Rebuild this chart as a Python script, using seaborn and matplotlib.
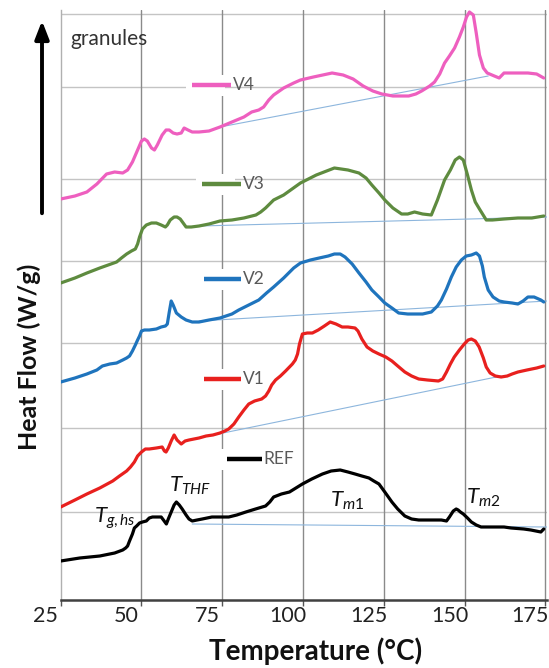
import numpy as np
import pandas as pd
import matplotlib
matplotlib.use("Agg")
import matplotlib.pyplot as plt
import seaborn as sns

# ---------------- data (heat flow in arbitrary offset units) -------------
v4_T = [25.0, 29.4, 33.1, 36.2, 39.2, 41.7, 44.2, 45.7, 47.2, 48.8, 50.0, 50.9, 51.8, 53.1, 54.0,
        54.9, 56.4, 57.6, 58.6, 59.8, 61.0, 62.3, 63.2, 64.4, 65.7, 67.8, 70.9, 74.3, 78.0, 81.7,
        84.1, 86.3, 87.8, 89.4, 90.9, 94.0, 97.1, 99.2, 103.2, 109.0, 112.4, 115.5, 118.6, 121.6,
        124.4, 127.8, 132.7, 134.9, 136.7, 139.2, 140.7, 142.3, 143.8, 145.3, 146.9, 148.4, 149.6,
        150.6, 151.5, 152.7, 153.6, 154.6, 155.8, 157.0, 159.2, 160.7, 162.2, 164.7, 169.6, 172.3,
        174.5]
v4_H = [4.01, 4.04, 4.08, 4.16, 4.26, 4.28, 4.27, 4.30, 4.38, 4.50, 4.59, 4.61, 4.59, 4.52, 4.50,
        4.55, 4.65, 4.70, 4.70, 4.67, 4.66, 4.67, 4.72, 4.70, 4.68, 4.68, 4.69, 4.73, 4.78, 4.83,
        4.88, 4.90, 4.93, 5.00, 5.05, 5.12, 5.17, 5.20, 5.23, 5.27, 5.25, 5.21, 5.14, 5.09,
        5.06, 5.04, 5.04, 5.06, 5.09, 5.14, 5.18, 5.26, 5.37, 5.44, 5.52, 5.63, 5.73,
        5.83, 5.88, 5.85, 5.67, 5.45, 5.32, 5.27, 5.24, 5.22, 5.27, 5.27, 5.27, 5.26,
        5.22]

v3_T = [25.0, 29.4, 33.1, 37.1, 42.3, 43.8, 45.4, 46.9, 48.1, 48.8, 49.4, 50.3, 51.5, 53.1, 54.6,
        56.1, 57.4, 58.0, 58.9, 60.1, 61.0, 62.0, 62.9, 63.8, 65.4, 67.8, 70.9, 74.3, 78.0, 81.7,
        85.4, 86.9, 88.4, 90.9, 94.0, 99.2, 104.1, 109.7, 113.9, 117.3, 119.5, 121.3, 123.5, 125.3,
        127.8, 130.5, 132.4, 134.5, 137.0, 139.7, 141.6, 143.8, 145.6, 147.1, 148.4, 149.6, 150.9,
        152.1, 153.3, 154.6, 156.7, 158.6, 162.2, 166.5, 170.8, 174.5]
v3_H = [3.17, 3.22, 3.27, 3.32, 3.38, 3.42, 3.46, 3.49, 3.51, 3.56, 3.63, 3.71, 3.75, 3.77, 3.77,
        3.75, 3.73, 3.75, 3.80, 3.83, 3.83, 3.81, 3.77, 3.73, 3.73, 3.74, 3.76, 3.79, 3.80, 3.82,
        3.85, 3.88, 3.92, 4.00, 4.05, 4.17, 4.25, 4.32, 4.30, 4.27, 4.22, 4.15, 4.07, 4.00,
        3.92, 3.86, 3.86, 3.88, 3.86, 3.85, 4.00, 4.20, 4.30, 4.40, 4.43, 4.40, 4.25,
        4.10, 3.98, 3.91, 3.80, 3.80, 3.81, 3.82, 3.82, 3.84]

v2_T = [25.0, 29.4, 33.1, 36.2, 37.9, 40.2, 42.3, 44.2, 45.4, 46.3, 47.2, 48.1, 48.8, 49.4, 50.0,
        50.9, 52.4, 54.6, 56.1, 57.4, 58.0, 58.6, 59.2, 59.8, 60.8, 62.3, 63.8, 65.7, 67.8, 70.9,
        74.3, 78.0, 80.1, 83.2, 86.3, 88.7, 90.9, 94.0, 97.1, 99.2, 102.3, 105.0, 107.8, 109.7,
        111.5, 113.0, 115.2, 117.3, 119.5, 121.3, 123.5, 125.3, 127.5, 129.6, 132.4, 134.5, 137.0,
        139.7, 141.6, 142.8, 144.4, 145.9, 147.4, 149.0, 150.5, 152.1, 153.6, 154.6, 155.5, 156.1,
        157.3, 158.8, 160.7, 162.2, 164.7, 166.5, 168.1, 169.6, 171.5, 173.6, 174.5]
v2_H = [2.18, 2.22, 2.26, 2.30, 2.34, 2.36, 2.37, 2.40, 2.42, 2.44, 2.49, 2.55, 2.60, 2.64, 2.69,
        2.70, 2.70, 2.71, 2.73, 2.74, 2.76, 2.88, 2.99, 2.95, 2.87, 2.83, 2.80, 2.78, 2.78, 2.80,
        2.82, 2.86, 2.90, 2.95, 3.00, 3.07, 3.13, 3.22, 3.32, 3.37, 3.40, 3.42, 3.44, 3.46,
        3.46, 3.43, 3.36, 3.27, 3.18, 3.10, 3.03, 2.97, 2.92, 2.87, 2.86, 2.86, 2.86,
        2.88, 2.94, 3.00, 3.11, 3.23, 3.33, 3.40, 3.44, 3.45, 3.47, 3.44, 3.34, 3.23,
        3.10, 3.03, 2.99, 2.98, 2.97, 2.96, 2.99, 3.03, 3.03, 3.00, 2.98]

v1_T = [25.0, 29.4, 33.1, 37.1, 41.1, 43.2, 45.4, 46.6, 47.8, 48.8, 50.0, 51.2, 52.4, 54.6, 56.4,
        57.1, 57.6, 58.3, 59.2, 60.1, 61.0, 62.3, 63.5, 64.7, 67.8, 70.0, 72.1, 74.3, 75.8, 77.0,
        78.6, 80.1, 81.7, 83.2, 85.0, 87.2, 88.4, 89.4, 90.3, 91.5, 93.0, 94.6, 95.8, 96.7, 97.6,
        98.3, 98.9, 99.8, 101.3, 102.9, 104.7, 106.6, 108.4, 110.2, 112.1, 113.9, 116.1, 117.0,
        118.2, 119.8, 121.6, 123.5, 125.6, 127.5, 129.3, 131.5, 133.6, 135.8, 138.5, 141.9, 143.2,
        144.4, 145.6, 146.8, 148.4, 149.9, 151.1, 152.1, 153.3, 154.5, 155.8, 156.7, 157.9, 159.5,
        161.3, 163.2, 164.7, 166.5, 169.3, 172.3, 174.5]
v1_H = [0.93, 1.00, 1.06, 1.12, 1.19, 1.24, 1.29, 1.33, 1.38, 1.44, 1.48, 1.51, 1.51, 1.52, 1.53,
        1.49, 1.48, 1.52, 1.59, 1.65, 1.60, 1.56, 1.59, 1.60, 1.62, 1.64, 1.65, 1.67, 1.69, 1.71,
        1.76, 1.83, 1.90, 1.96, 1.99, 2.01, 2.04, 2.09, 2.15, 2.20, 2.24, 2.29, 2.33, 2.36, 2.40,
        2.46, 2.56, 2.66, 2.67, 2.67, 2.70, 2.74, 2.78, 2.76, 2.73, 2.73, 2.72, 2.69,
        2.61, 2.53, 2.49, 2.46, 2.43, 2.39, 2.34, 2.28, 2.24, 2.21, 2.20, 2.19, 2.21,
        2.28, 2.36, 2.43, 2.50, 2.56, 2.60, 2.61, 2.59, 2.53, 2.42, 2.33, 2.27, 2.24,
        2.23, 2.24, 2.26, 2.28, 2.30, 2.32, 2.34]

ref_T = [25.0, 30.9, 37.1, 41.7, 44.2, 45.1, 45.7, 46.3, 47.2, 47.8, 48.5, 49.4, 50.3, 51.5, 52.4,
         53.4, 54.9, 56.1, 56.8, 57.7, 58.3, 59.2, 60.1, 60.8, 61.7, 62.6, 63.8, 64.7, 65.7, 67.2,
         68.8, 70.3, 71.8, 74.6, 77.0, 79.5, 82.3, 85.3, 88.4, 89.7, 90.9, 93.3, 95.8, 97.8, 99.8,
         102.7, 106.0, 108.7, 111.5, 113.9, 116.1, 118.2, 120.4, 121.9, 123.5, 125.3, 127.5, 129.3,
         131.5, 133.6, 135.8, 138.5, 140.7, 142.8, 144.4, 145.3, 146.5, 147.4, 148.0, 148.7, 149.6,
         150.9, 152.1, 153.6, 155.1, 158.5, 162.2, 164.4, 168.3, 170.5, 173.6, 174.5]
ref_H = [0.39, 0.42, 0.44, 0.47, 0.50, 0.52, 0.54, 0.59, 0.66, 0.72, 0.74, 0.77, 0.78, 0.79, 0.82,
         0.83, 0.83, 0.83, 0.80, 0.76, 0.81, 0.88, 0.95, 0.98, 0.95, 0.91, 0.85, 0.81, 0.79, 0.80,
         0.81, 0.82, 0.83, 0.83, 0.83, 0.85, 0.88, 0.91, 0.94, 0.98, 1.03, 1.06, 1.08, 1.12, 1.16,
         1.21, 1.26, 1.29, 1.30, 1.28, 1.26, 1.24, 1.22, 1.19, 1.16, 1.08, 0.98, 0.91,
         0.84, 0.81, 0.80, 0.80, 0.80, 0.80, 0.79, 0.83, 0.89, 0.91, 0.90, 0.88, 0.86,
         0.82, 0.78, 0.75, 0.73, 0.73, 0.73, 0.72, 0.71, 0.70, 0.68, 0.71]

# baselines (start T, start H, end T, end H)
base_v4 = [74.3, 4.73, 157.3, 5.24]
base_v3 = [68.0, 3.74, 175.5, 3.83]
base_v2 = [67.8, 2.79, 175.5, 2.99]
base_v1 = [64.7, 1.60, 161.3, 2.24]
base_ref = [65.7, 0.76, 175.5, 0.73]

series_names = ["V4", "V3", "V2", "V1", "REF"]
colors = {"V4": "#EE5FBF", "V3": "#5E8B3F", "V2": "#1F74BD", "V1": "#E8201E", "REF": "#000000"}
# label positions: (segment start T, segment end T, H)
label_pos = {"V4": (65.7, 77.7, 5.15), "V3": (68.8, 80.8, 4.16), "V2": (69.4, 80.8, 3.21),
             "V1": (69.4, 80.8, 2.21), "REF": (76.5, 87.2, 1.41)}

x_ticks = [25, 50, 75, 100, 125, 150, 175]
x_tick_labels = ["25", "50", "75", "100", "125", "150", "175"]
h_grid = [0.88, 1.72, 2.57, 3.39, 4.21, 5.13, 5.86]

# ---------------- build ----------------
frames = []
for name, T, H in [("V4", v4_T, v4_H), ("V3", v3_T, v3_H), ("V2", v2_T, v2_H),
                   ("V1", v1_T, v1_H), ("REF", ref_T, ref_H)]:
    frames.append(pd.DataFrame({"T": T, "H": H, "sample": name}))
df = pd.concat(frames, ignore_index=True)

sns.set_theme(style="white")
plt.rcParams["font.family"] = ["Lato", "DejaVu Sans"]
plt.rcParams["mathtext.fontset"] = "custom"
plt.rcParams["mathtext.it"] = "Lato:italic"
plt.rcParams["mathtext.rm"] = "Lato"

W, Hpx = 549, 668
fig = plt.figure(figsize=(W / 100, Hpx / 100), dpi=100)
ax = fig.add_axes([60.7 / W, 68 / Hpx, (547 - 60.7) / W, 590 / Hpx])

# grid
for g in h_grid:
    ax.axhline(g, color="#c4c4c4", lw=1.0, zorder=0)
for t in x_ticks[1:]:
    ax.axvline(t, color="#8a8a8a", lw=1.0, zorder=0)

# baselines
for b in [base_v4, base_v3, base_v2, base_v1, base_ref]:
    ax.plot([b[0], b[2]], [b[1], b[3]], color="#8DB6DD", lw=0.8, zorder=1)

sns.lineplot(data=df, x="T", y="H", hue="sample", palette=colors, sort=False,
             estimator=None, lw=2.3, legend=False, ax=ax, zorder=3)
for ln in ax.get_lines():
    ln.set_solid_joinstyle("round")
    ln.set_solid_capstyle("round")

# labels
for name in series_names:
    t0, t1, h = label_pos[name]
    ax.text(t0 - 1.2, h, "        " if name != "REF" else "          ", fontsize=12,
            va="center", ha="left", zorder=2,
            bbox=dict(boxstyle="square,pad=0.15", fc="white", ec="none"))
    ax.plot([t0, t1], [h, h], color=colors[name], lw=3.2, solid_capstyle="butt", zorder=4)
    ax.text(t1 + 0.5, h, name, fontsize=12.5, color="#595959", va="center", ha="left", zorder=4)

ax.text(27.9, 5.61, "granules", fontsize=15, color="#333333", va="center", ha="left")

# annotations
ax.text(35.4, 0.77, r"$T_{g,hs}$", fontsize=16, color="#111111", va="baseline", ha="left", zorder=5)
ax.text(58.4, 1.08, r"$T_{THF}$", fontsize=16, color="#111111", va="baseline", ha="left", zorder=5)
ax.text(108.2, 0.93, r"$T_{m1}$", fontsize=16, color="#111111", va="baseline", ha="left", zorder=5)
ax.text(150.3, 0.96, r"$T_{m2}$", fontsize=16, color="#111111", va="baseline", ha="left", zorder=5)

ax.set_xlim(25, 175.5)
ax.set_ylim(0, 5.9)
ax.set_xticks(x_ticks)
ax.set_xticklabels([])
ax.set_yticks([])
ax.tick_params(axis="x", length=4, width=1, direction="out", bottom=True, color="#555555")
# tick labels sit slightly left of their ticks, as in the original
for t, lab in zip(x_ticks, x_tick_labels):
    ax.annotate(lab, xy=(t, 0), xycoords=("data", "axes fraction"),
                xytext=(-15 * 0.72, -4), textcoords="offset points",
                ha="center", va="top", fontsize=15.5, color="#222222")
ax.set_xlabel("")
ax.set_ylabel("")
for s in ["top", "right"]:
    ax.spines[s].set_visible(False)
ax.spines["left"].set_color("#b0b0b0")
ax.spines["left"].set_linewidth(1.0)
ax.spines["bottom"].set_color("#404040")
ax.spines["bottom"].set_linewidth(1.8)

fig.text(316 / W, 1 - 651 / Hpx, "Temperature (°C)", fontsize=20, fontweight="bold",
         ha="center", va="center", color="#111111")
fig.text(29 / W, 1 - 357 / Hpx, "Heat Flow (W/g)", fontsize=18, fontweight="bold",
         ha="center", va="center", rotation=90, color="#111111")
ax.annotate("", xy=(42, Hpx - 18), xytext=(42, Hpx - 216), xycoords="figure pixels",
            textcoords="figure pixels",
            arrowprops=dict(arrowstyle="-|>,head_length=0.9,head_width=0.35", color="black", lw=2.8))

fig.savefig("out.png", dpi=100)
